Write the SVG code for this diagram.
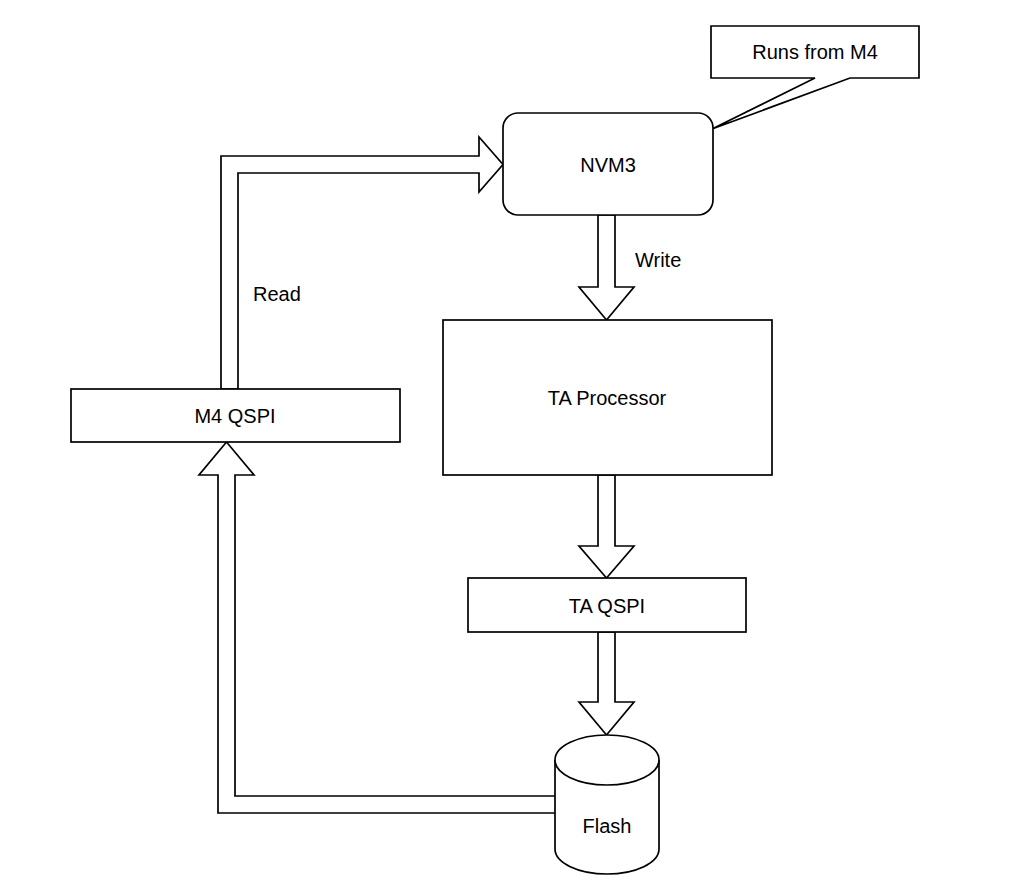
<svg xmlns="http://www.w3.org/2000/svg" width="1019" height="886" viewBox="0 0 1019 886">
  <style>
    .shape { fill: #ffffff; stroke: #000000; stroke-width: 1.7; stroke-linejoin: miter; }
    .label { font-family: "Liberation Sans", Arial, Helvetica, sans-serif; font-size: 20px; fill: #000000; }
    .mid { text-anchor: middle; }
  </style>
  <rect width="1019" height="886" fill="#ffffff"/>

  <!-- wide block arrows between the parts -->
  <g id="connectors">
    <!-- M4 QSPI up and across into NVM3 -->
    <path class="shape" d="M221,389 V156 H479 V137 L503,164.5 L479,192 V173 H238 V389 Z"/>
    <!-- NVM3 down to TA Processor -->
    <path class="shape" d="M598,215 V287 H579 L606.5,320 L634,287 H615 V215 Z"/>
    <!-- TA Processor down to TA QSPI -->
    <path class="shape" d="M598,475 V546 H579 L606.5,578 L634,546 H615 V475 Z"/>
    <!-- TA QSPI down to Flash -->
    <path class="shape" d="M598,632 V702 H579 L606.5,735 L634,702 H615 V632 Z"/>
    <!-- Flash back round to M4 QSPI -->
    <path class="shape" d="M556,796 H235 V475 H254 L226.5,442 L199,475 H218 V813 H556 Z"/>
  </g>

  <g id="callout">
    <path class="shape" d="M711,26 H919 V78 H850 L712,129 L815,78 H711 Z"/>
    <text class="label mid" x="815" y="59">Runs from M4</text>
  </g>

  <g id="nvm3">
    <rect class="shape" x="503" y="113" width="210" height="102" rx="15" ry="15"/>
    <text class="label mid" x="608" y="172">NVM3</text>
  </g>

  <g id="ta-processor">
    <rect class="shape" x="443" y="320" width="329" height="155"/>
    <text class="label mid" x="607" y="405">TA Processor</text>
  </g>

  <g id="ta-qspi">
    <rect class="shape" x="468" y="578" width="278" height="54"/>
    <text class="label mid" x="607" y="613">TA QSPI</text>
  </g>

  <g id="m4-qspi">
    <rect class="shape" x="71" y="389" width="329" height="53"/>
    <text class="label mid" x="235" y="423">M4 QSPI</text>
  </g>

  <g id="flash">
    <path class="shape" d="M555,760 A52,25 0 0 1 659,760 V849 A52,25 0 0 1 555,849 Z"/>
    <path class="shape" fill="none" d="M555,760 A52,25 0 0 0 659,760"/>
    <text class="label mid" x="607" y="833">Flash</text>
  </g>

  <g id="edge-labels">
    <text class="label" x="253" y="301">Read</text>
    <text class="label" x="635" y="267">Write</text>
  </g>
</svg>
